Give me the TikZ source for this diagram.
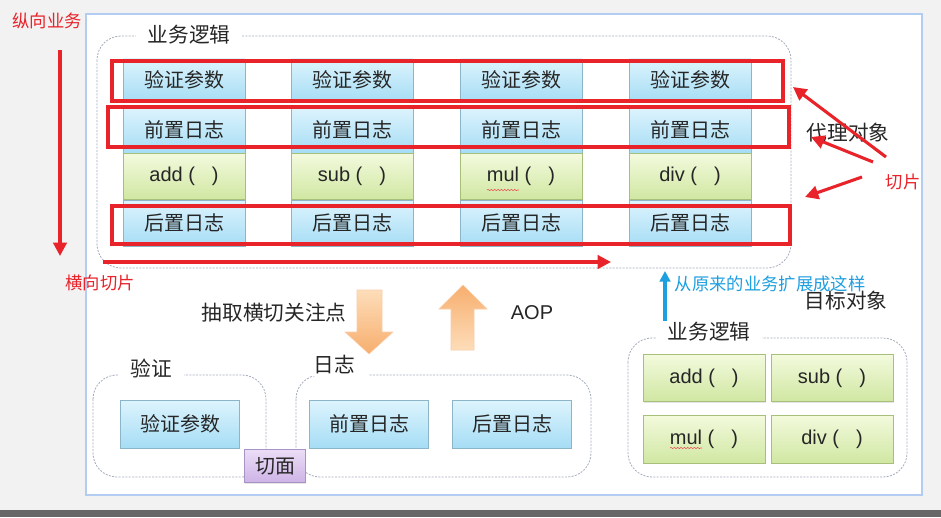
\documentclass[tikz,border=0pt]{standalone}
\usepackage{fontspec}
\setmainfont{Noto Sans CJK SC}
\newfontfamily\latinfont{Liberation Sans}
\usepackage{xcolor}
\usetikzlibrary{arrows.meta,shadows,decorations.pathmorphing}
\definecolor{bgGray}{HTML}{F2F2F2}
\definecolor{barGray}{HTML}{666666}
\definecolor{panelEdge}{HTML}{B3CDF2}
\definecolor{grpEdge}{HTML}{A3ACBD}
\definecolor{txt}{HTML}{262626}
\definecolor{blueT}{HTML}{DDF4FD}
\definecolor{blueB}{HTML}{A6DDF5}
\definecolor{blueEdge}{HTML}{8CB5C8}
\definecolor{greenT}{HTML}{F3FADD}
\definecolor{greenB}{HTML}{D0E7A2}
\definecolor{greenEdge}{HTML}{A7BF79}
\definecolor{purpT}{HTML}{EBDDF6}
\definecolor{purpB}{HTML}{CDB4E6}
\definecolor{purpEdge}{HTML}{A893C6}
\definecolor{orangeL}{HTML}{FDDDB9}
\definecolor{orangeD}{HTML}{F7AE6E}
\definecolor{sliceRed}{HTML}{E8232A}
\definecolor{extBlue}{HTML}{1E9FE0}
\newcommand{\call}[1]{{\latinfont #1 (\hspace{0.85em})}}

\begin{document}
\begin{tikzpicture}[x=0.75pt,y=-0.75pt,
  box/.style={minimum width=91.5pt,minimum height=34.5pt,inner sep=0pt,text=txt,
    font=\fontsize{15}{18}\selectfont,
    drop shadow={opacity=0.2,shadow xshift=0.6pt,shadow yshift=-1pt}},
  bluebox/.style={box,draw=blueEdge,top color=blueT,bottom color=blueB},
  greenbox/.style={box,draw=greenEdge,top color=greenT,bottom color=greenB},
  group/.style={draw=grpEdge,line width=0.6pt,dash pattern=on 1.5pt off 1pt,rounded corners=18pt},
  grouplabel/.style={fill=white,text=txt,inner xsep=9pt,inner ysep=1pt,font=\fontsize{15.5}{18}\selectfont},
  redframe/.style={draw=sliceRed,line width=2.3pt},
  redarrow/.style={sliceRed,line width=2.3pt,-{Triangle[length=10pt,width=10pt]}},
  redlabel/.style={text=sliceRed,font=\fontsize{13}{16}\selectfont},
  plainlabel/.style={text=txt,font=\fontsize{15.5}{18}\selectfont},
  squiggle/.style={sliceRed!80,line width=0.4pt,decorate,
    decoration={snake,amplitude=0.5pt,segment length=2.5pt}}]
  \useasboundingbox (0,0) rectangle (941,517);
  % screen background and panel
  \fill[bgGray] (0,0) rectangle (941,517);
  \fill[barGray] (0,510) rectangle (941,517);
  \draw[panelEdge,line width=1.5pt,fill=white] (86,14) rectangle (922,495);

  % proxy object: business logic with slices
  \draw[group] (97,36) rectangle (791,268);
  \node[grouplabel] (bizTop) at (189,35) {业务逻辑};
  \foreach \x/\op [count=\c] in {184/add,352/sub,521/mul,690/div}{
    \node[bluebox,minimum height=31.5pt] (chk\c) at (\x,80) {验证参数};
    \node[bluebox] (pre\c) at (\x,130) {前置日志};
    \node[greenbox] (op\c) at (\x,176.5) {\call{\op}};
    \node[bluebox] (post\c) at (\x,223) {后置日志};
  }
  \draw[squiggle] (487,190) -- (519,190);
  \draw[redframe] (112,61) rectangle (783,101);
  \draw[redframe] (108,107) rectangle (789,147);
  \draw[redframe] (112,206) rectangle (790,244);

  % vertical / horizontal reading
  \node[redlabel] (vert) at (47,21) {纵向业务};
  \node[redlabel] (horiz) at (100,283) {横向切片};
  \coordinate (vTop) at (60,50);
  \coordinate (vEnd) at (60,256);
  \coordinate (hStart) at (103,262);
  \coordinate (hEnd) at (611,262);
  \draw[redarrow] (vTop) -- (vEnd);
  \draw[redarrow] (hStart) -- (hEnd);

  % slices pointing at the frames
  \node[plainlabel] (proxy) at (848,133) {代理对象};
  \node[redlabel] (slice) at (903,182) {切片};
  \coordinate (t1) at (886,157);
  \coordinate (t2) at (873,162);
  \coordinate (t3) at (862,177);
  \coordinate (h1) at (793,87);
  \coordinate (h2) at (811,137);
  \coordinate (h3) at (805,197);
  \foreach \i in {1,2,3}{\draw[redarrow] (t\i) -- (h\i);}

  % extension note
  \node[text=extBlue,font=\fontsize{13}{16}\selectfont] (ext) at (770,284) {从原来的业务扩展成这样};
  \coordinate (eBot) at (665,333);
  \coordinate (eTop) at (665,271);
  \draw[extBlue,line width=2.3pt,-{Triangle[length=8pt,width=8pt]}] (eBot) -- (eTop);
  \node[plainlabel] (target) at (846,301) {目标对象};

  % extract / weave arrows
  \shade[top color=orangeL,bottom color=orangeD,draw=orangeD!60]
    (357,290) -- (382,290) -- (382,332) -- (393,332) -- (369,354) -- (345,332) -- (357,332) -- cycle;
  \shade[top color=orangeD,bottom color=orangeL,draw=orangeD!60]
    (451,350) -- (474,350) -- (474,309) -- (487,309) -- (463,285) -- (439,309) -- (451,309) -- cycle;
  \node[plainlabel] (extract) at (274,313) {抽取横切关注点};
  \node[plainlabel,font=\latinfont\fontsize{15}{18}\selectfont] (aop) at (532,313) {AOP};

  % aspects
  \draw[group] (93,375) rectangle (266,477);
  \node[grouplabel] (chkGrp) at (151,368) {验证};
  \node[bluebox,minimum width=89pt,minimum height=36pt] (chkAsp) at (180,424) {验证参数};
  \draw[group] (296,375) rectangle (591,477);
  \node[grouplabel,minimum width=52pt] (logGrp) at (334,365) {日志};
  \node[bluebox,minimum width=89pt,minimum height=36pt] (preAsp) at (369,424) {前置日志};
  \node[bluebox,minimum width=89pt,minimum height=36pt] (postAsp) at (512,424) {后置日志};
  \node[box,draw=purpEdge,top color=purpT,bottom color=purpB,minimum width=45.5pt,minimum height=25pt] (aspect) at (275,466) {切面};

  % target object
  \draw[group] (628,338) rectangle (907,477);
  \node[grouplabel] (bizBot) at (709,332) {业务逻辑};
  \node[greenbox,minimum height=35pt] (add) at (704,378) {\call{add}};
  \node[greenbox,minimum height=35pt] (sub) at (832,378) {\call{sub}};
  \node[greenbox,minimum height=36pt] (mul) at (704,439) {\call{mul}};
  \node[greenbox,minimum height=36pt] (div) at (832,439) {\call{div}};
  \draw[squiggle] (670,448) -- (702,448);
\end{tikzpicture}
\end{document}
